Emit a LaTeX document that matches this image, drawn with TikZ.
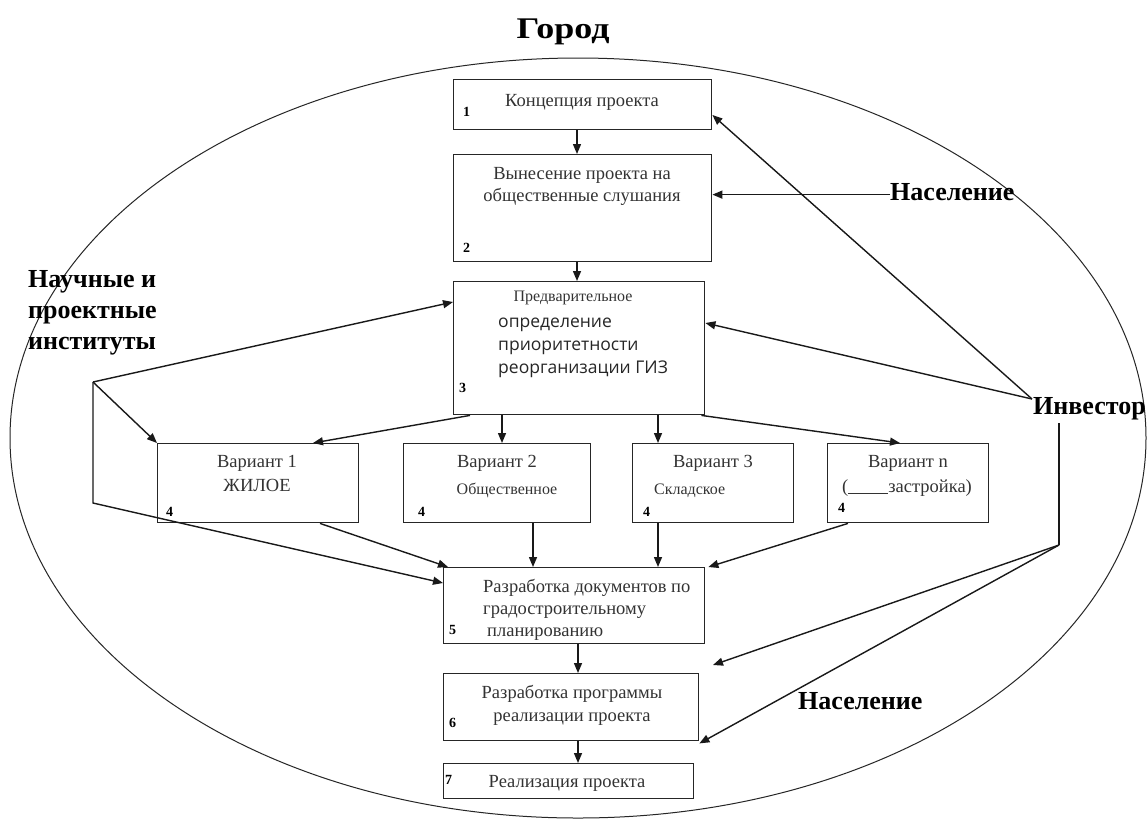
\documentclass[tikz,border=0pt]{standalone}
\usepackage{fontspec}
\setmainfont{Liberation Serif}
\newfontfamily\osans{Open Sans}
\usetikzlibrary{arrows.meta}
\begin{document}
\begin{tikzpicture}[x=1pt,y=-1pt,
  box/.style={draw=black!85, line width=1.4pt, inner sep=0pt, anchor=north west},
  txt/.style={font=\fontsize{18.5}{22}\selectfont, text=black!80, inner sep=0pt, anchor=base},
  txtw/.style={txt, anchor=base west},
  small/.style={font=\fontsize{16}{20}\selectfont, text=black!80, inner sep=0pt, anchor=base},
  sans/.style={font=\osans\fontsize{17.5}{21}\selectfont, text=black!85, inner sep=0pt, anchor=base west},
  num/.style={font=\bfseries\fontsize{14}{14}\selectfont, inner sep=0pt, anchor=base west},
  lbl/.style={font=\bfseries\fontsize{26}{31}\selectfont, inner sep=0pt, anchor=base west, align=left},
  arr/.style={line width=1.4pt, draw=black!90, -{Triangle[length=10pt,width=8pt]}},
  ln/.style={line width=1.4pt, draw=black!90}]
\useasboundingbox (0,0) rectangle (1148,823);
\fill[white] (0,0) rectangle (1148,823);

% city ellipse
\draw[line width=1pt, black!85] (578,438) ellipse [x radius=568pt, y radius=380pt];
\node[font=\bfseries\fontsize{30}{30}\selectfont, inner sep=0pt, anchor=base] (city) at (563,38) {\scalebox{1.2}[1]{Город}};

% boxes
\node[box, minimum width=258pt, minimum height=50pt]  (b1) at (453,79) {};
\node[box, minimum width=258pt, minimum height=107pt] (b2) at (453,154) {};
\node[box, minimum width=251pt, minimum height=133pt] (b3) at (453,281) {};
\node[box, minimum width=201pt, minimum height=79pt]  (v1) at (157,443) {};
\node[box, minimum width=187pt, minimum height=79pt]  (v2) at (403,443) {};
\node[box, minimum width=161pt, minimum height=79pt]  (v3) at (632,443) {};
\node[box, minimum width=161pt, minimum height=79pt]  (vn) at (827,443) {};
\node[box, minimum width=261pt, minimum height=76pt]  (b5) at (443,567) {};
\node[box, minimum width=255pt, minimum height=67pt]  (b6) at (443,673) {};
\node[box, minimum width=250pt, minimum height=35pt]  (b7) at (443,763) {};

% box texts
\node[txt] (t1) at (582,106) {Концепция проекта};
\node[txt] (t2a) at (582,179) {Вынесение проекта на};
\node[txt] (t2b) at (582,201) {общественные слушания};
\node[small] (t3a) at (573,301) {Предварительное};
\node[sans] (t3b) at (498,327) {определение};
\node[sans] (t3c) at (498,350) {приоритетности};
\node[sans] (t3d) at (498,373) {реорганизации ГИЗ};
\node[txt] (tv1a) at (257,467) {Вариант 1};
\node[txt] (tv1b) at (257,491) {ЖИЛОЕ};
\node[txt] (tv2a) at (497,467) {Вариант 2};
\node[small] (tv2b) at (507,494) {Общественное};
\node[txt] (tv3a) at (713,467) {Вариант 3};
\node[small, anchor=base west] (tv3b) at (654,494) {Складское};
\node[txt] (tvna) at (908,467) {Вариант n};
\node[txt] (tvnb) at (907,492) {(\rule[-2pt]{40pt}{0.8pt}застройка)};
\node[txtw] (t5a) at (483,592) {Разработка документов по};
\node[txtw] (t5b) at (483,614) {градостроительному};
\node[txtw] (t5c) at (487,636) {планированию};
\node[txt] (t6a) at (572,698) {Разработка программы};
\node[txt] (t6b) at (572,721) {реализации проекта};
\node[txt] (t7) at (567,787) {Реализация проекта};

% numbers
\node[num] (n1) at (463,116) {1};
\node[num] (n2) at (463,252) {2};
\node[num] (n3) at (459,392) {3};
\node[num] (n4a) at (166,516) {4};
\node[num] (n4b) at (418,516) {4};
\node[num] (n4c) at (643,516) {4};
\node[num] (n4d) at (838,512) {4};
\node[num] (n5) at (449,634) {5};
\node[num] (n6) at (449,727) {6};
\node[num] (n7) at (445,784) {7};

% outer labels
\node[lbl] (inst) at (28,349) {Научные и\\проектные\\институты};
\node[lbl] (nas1) at (890,200) {Население};
\node[lbl] (inv) at (1033,414) {Инвестор};
\node[lbl] (nas2) at (798,709) {Население};

% main flow
\draw[arr] ([xshift=124pt]b1.south west) -- ([xshift=124pt]b2.north west);
\draw[arr] ([xshift=124pt]b2.south west) -- ([xshift=124pt]b3.north west);
\draw[arr] ([xshift=17pt]b3.south west) -- ([xshift=156pt]v1.north west);
\draw[arr] ([xshift=49pt]b3.south west) -- ([xshift=99pt]v2.north west);
\draw[arr] ([xshift=205pt]b3.south west) -- ([xshift=26pt]v3.north west);
\draw[arr] ([xshift=-4pt]b3.south east) -- ([xshift=73pt]vn.north west);
\draw[arr] ([xshift=163pt]v1.south west) -- ([xshift=5pt]b5.north west);
\draw[arr] ([xshift=130pt]v2.south west) -- ([xshift=90pt]b5.north west);
\draw[arr] ([xshift=26pt]v3.south west) -- ([xshift=215pt]b5.north west);
\draw[arr] ([xshift=21pt]vn.south west) -- ([xshift=3pt]b5.north east);
\draw[arr] ([xshift=135pt]b5.south west) -- ([xshift=135pt]b6.north west);
\draw[arr] ([xshift=135pt]b6.south west) -- ([xshift=135pt]b7.north west);

% institutes
\coordinate (A) at (93,382);
\coordinate (A2) at (93,503);
\draw[arr] (A) -- ([yshift=-21pt]b3.north west);
\draw[arr] (A) -- (v1.north west);
\draw[arr] (A) -- (A2) -- ([yshift=-16pt]b5.north west);

% population (top)
\draw[arr] ([yshift=-3pt]nas1.west) -- ([yshift=-3pt]b2.east |- nas1.west);

% investor
\coordinate (I) at (1032,399);
\coordinate (J1) at (1059,423);
\coordinate (J2) at (1059,545);
\coordinate (free1) at (713,665);
\draw[arr] (I) -- ([yshift=-36pt]b1.north east);
\draw[arr] (I) -- ([yshift=-42pt]b3.north east);
\draw[ln] (J1) -- (J2);
\draw[arr] (J2) -- (free1);
\draw[arr] (J2) -- ([yshift=-2pt]b6.south east);
\end{tikzpicture}
\end{document}
